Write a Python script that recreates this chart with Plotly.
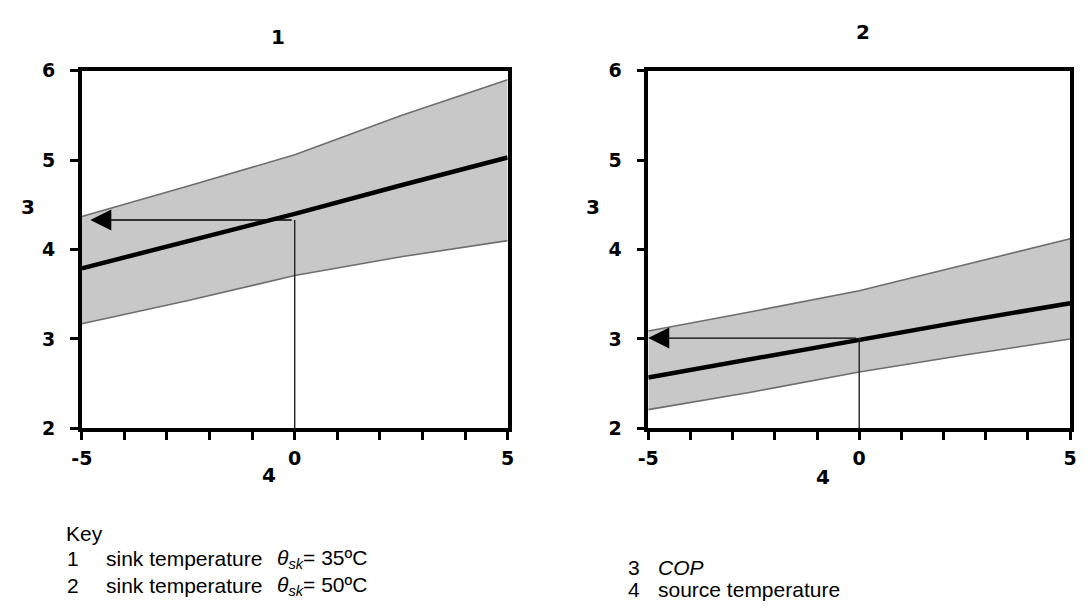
import plotly.graph_objects as go

# Source temperature (°C) at which the COP bands are sampled
source_temp = [-5, -2.5, 0, 2.5, 5]

# Sink temperature 35 °C: COP band (upper / typical / lower)
cop35_upper = [4.37, 4.71, 5.06, 5.50, 5.90]
cop35_mid = [3.79, 4.09, 4.40, 4.72, 5.03]
cop35_lower = [3.17, 3.43, 3.71, 3.92, 4.10]

# Sink temperature 50 °C: COP band (upper / typical / lower)
cop50_upper = [3.09, 3.31, 3.54, 3.83, 4.12]
cop50_mid = [2.57, 2.78, 3.00, 3.20, 3.40]
cop50_lower = [2.21, 2.41, 2.63, 2.82, 3.00]

# Reading example: source temperature 0 °C -> COP
read_source = 0
read_cop = [4.33, 3.01]
read_arrow_end = [-4.8, -5.0]

panel_titles = ["1", "2"]
x_tick_vals = [-5, -4, -3, -2, -1, 0, 1, 2, 3, 4, 5]
x_tick_text = ["-5", "", "", "", "", "0", "", "", "", "", "5"]
y_tick_vals = [2, 3, 4, 5, 6]

W, H = 1087, 610
TICK_FONT = dict(family="DejaVu Sans", size=19, color="black", weight="bold")
KEY_FONT = dict(family="Liberation Sans", size=21, color="black")

fig = go.Figure()

panels = [
    (cop35_lower, cop35_upper, cop35_mid, "x", "y"),
    (cop50_lower, cop50_upper, cop50_mid, "x2", "y2"),
]
for lower, upper, mid, xa, ya in panels:
    fig.add_trace(go.Scatter(x=source_temp, y=lower, mode="lines",
                             line=dict(color="#6e6e6e", width=1.6),
                             xaxis=xa, yaxis=ya, showlegend=False))
    fig.add_trace(go.Scatter(x=source_temp, y=upper, mode="lines",
                             line=dict(color="#6e6e6e", width=1.6),
                             fill="tonexty", fillcolor="#c8c8c8",
                             xaxis=xa, yaxis=ya, showlegend=False))
    fig.add_trace(go.Scatter(x=source_temp, y=mid, mode="lines",
                             line=dict(color="black", width=4.5),
                             xaxis=xa, yaxis=ya, showlegend=False))

# Vertical reading lines from the source temperature up to the band
for i, (xa, ya) in enumerate([("x", "y"), ("x2", "y2")]):
    fig.add_trace(go.Scatter(x=[read_source, read_source], y=[2, read_cop[i]],
                             mode="lines", line=dict(color="#222222", width=1.4),
                             xaxis=xa, yaxis=ya, showlegend=False))

axis_common = dict(showline=True, linewidth=3.5, linecolor="black", mirror=True,
                   ticks="outside", ticklen=8, tickwidth=2.5, tickcolor="black",
                   showgrid=False, zeroline=False, tickfont=TICK_FONT,
                   fixedrange=True)

x_domains = [[72 / W, 505 / W], [648 / W, 1077 / W]]
y_domain = [1 - 433 / H, 1 - 62 / H]

layout = dict(
    width=W, height=H,
    margin=dict(l=0, r=0, t=0, b=0),
    paper_bgcolor="white", plot_bgcolor="white",
    showlegend=False,
)
for i, suffix in enumerate(["", "2"]):
    layout["xaxis" + suffix] = dict(domain=x_domains[i], range=[-5, 5],
                                    tickvals=x_tick_vals, ticktext=x_tick_text,
                                    ticklabelstandoff=2,
                                    anchor="y" + suffix, **axis_common)
    layout["yaxis" + suffix] = dict(domain=y_domain, range=[2, 6],
                                    tickvals=y_tick_vals, anchor="x" + suffix,
                                    ticklabelstandoff=11,
                                    **axis_common)
fig.update_layout(**layout)

annotations = []
# Reading arrows pointing to the COP axis
for i, (xa, ya) in enumerate([("x", "y"), ("x2", "y2")]):
    annotations.append(dict(x=read_arrow_end[i], y=read_cop[i], xref=xa, yref=ya,
                            ax=read_source, ay=read_cop[i], axref=xa, ayref=ya,
                            showarrow=True, arrowhead=2, arrowsize=3,
                            arrowwidth=1.4, arrowcolor="black", standoff=0,
                            text=" "))

BOLD = dict(family="DejaVu Sans", size=20, color="black", weight="bold")
# Panel titles and axis labels
annotations += [
    dict(x=271 / W, y=1 - 27 / H, text=panel_titles[0], font=BOLD),
    dict(x=866 / W, y=1 - 22 / H, text=panel_titles[1], font=BOLD),
    dict(x=17 / W, y=1 - 203 / H, text="3", font=BOLD),
    dict(x=592 / W, y=1 - 203 / H, text="3", font=BOLD),
    dict(x=262 / W, y=1 - 481 / H, text="4", font=BOLD),
    dict(x=826 / W, y=1 - 483 / H, text="4", font=BOLD),
]

# Key
key_rows = [
    (54, 542, "Key"),
    (55, 568, "1"), (95, 568, "sink temperature"),
    (268, 568, "<i>θ</i><sub><i>sk</i></sub>= 35ºC"),
    (55, 596, "2"), (95, 596, "sink temperature"),
    (268, 596, "<i>θ</i><sub><i>sk</i></sub>= 50ºC"),
    (625, 577, "3"), (656, 577, "<i>COP</i>"),
    (625, 600, "4"), (656, 600, "source temperature"),
]
for px, py, txt in key_rows:
    annotations.append(dict(x=px / W, y=1 - py / H, text=txt, font=KEY_FONT,
                            xanchor="left"))

for a in annotations:
    if a.get("xref") is None:
        a.update(xref="paper", yref="paper", showarrow=False, yanchor="middle")
        a.setdefault("xanchor", "center")
fig.update_layout(annotations=annotations)

fig.write_html("out.html")
